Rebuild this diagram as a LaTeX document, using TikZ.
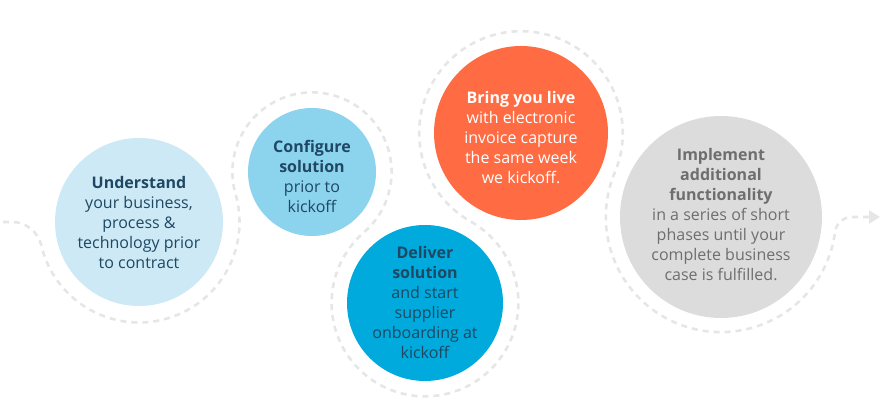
\documentclass[tikz,border=0pt]{standalone}
\usepackage{fontspec}
\setmainfont{Open Sans}
\usetikzlibrary{arrows.meta}
\definecolor{paleblue}{RGB}{205,233,246}
\definecolor{skyblue}{RGB}{140,211,238}
\definecolor{deepblue}{RGB}{0,170,220}
\definecolor{orangered}{RGB}{255,107,66}
\definecolor{lightgrey}{RGB}{220,220,220}
\definecolor{navytext}{RGB}{30,72,99}
\definecolor{greytext}{RGB}{110,110,110}
\definecolor{trailgrey}{RGB}{230,230,230}
\begin{document}
\begin{tikzpicture}[x=1pt,y=1pt,
  bubble/.style={circle, inner sep=0pt, draw=none},
  caption/.style={align=center, font=\fontsize{16}{20}\selectfont, inner sep=0pt},
  trail/.style={draw=trailgrey, line width=2.6pt, dash pattern=on 6pt off 5pt}
]
\useasboundingbox (0,0) rectangle (890,406);

\coordinate (c1) at (139,184);
\coordinate (c2) at (312,234);
\coordinate (c3) at (425,103);
\coordinate (c4) at (521,273);
\coordinate (c5) at (721,189);
\coordinate (trailstart) at (3,184);
\coordinate (trailend) at (880,189);

% dashed serpentine trail
\draw[trail, -{Triangle[length=11pt,width=13pt,fill=trailgrey]}]
  (trailstart) -- ++(9,0)
  arc[start angle=90, end angle=13.29, radius=30pt]
  arc[start angle=193.29, end angle=376.12, radius=100.5pt]
  arc[start angle=196.12, end angle=-49.22, radius=79.6pt]
  arc[start angle=130.78, end angle=420.55, radius=93.4pt]
  arc[start angle=240.55, end angle=-22.78, radius=101.8pt]
  arc[start angle=157.22, end angle=352.61, radius=115.1pt]
  arc[start angle=172.61, end angle=90, radius=17pt]
  -- (trailend);

% bubbles
\node[bubble, fill=paleblue, minimum size=168pt] (b1) at (c1) {};
\node[bubble, fill=skyblue, minimum size=128pt] (b2) at (c2) {};
\node[bubble, fill=deepblue, minimum size=156pt] (b3) at (c3) {};
\node[bubble, fill=orangered, minimum size=174pt] (b4) at (c4) {};
\node[bubble, fill=lightgrey, minimum size=202pt] (b5) at (c5) {};

% texts
\node[caption, text=navytext] (t1) at ([yshift=-0.5pt]b1.center)
  {\textbf{Understand}\\your business,\\process \&\\technology prior\\to contract};
\node[caption, text=navytext] (t2) at ([yshift=-4pt]b2.center)
  {\textbf{Configure}\\\textbf{solution}\\prior to\\kickoff};
\node[caption, text=navytext] (t3) at (b3.center)
  {\textbf{Deliver}\\\textbf{solution}\\and start\\supplier\\onboarding at\\kickoff};
\node[caption, text=white] (t4) at ([yshift=-4.5pt]b4.center)
  {\textbf{Bring you live}\\with electronic\\invoice capture\\the same week\\we kickoff.};
\node[caption, text=greytext] (t5) at ([yshift=2pt]b5.center)
  {\textbf{Implement}\\\textbf{additional}\\\textbf{functionality}\\in a series of short\\phases until your\\complete business\\case is fulfilled.};
\end{tikzpicture}
\end{document}
